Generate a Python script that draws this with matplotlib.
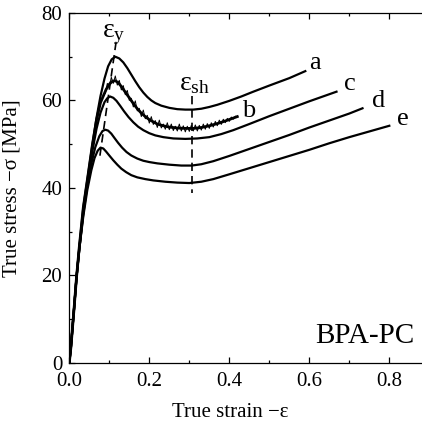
import matplotlib
matplotlib.use("Agg")
import matplotlib.pyplot as plt
from matplotlib.ticker import MultipleLocator

plt.rcParams['font.family'] = ['Liberation Serif', 'DejaVu Serif']
plt.rcParams['mathtext.fontset'] = 'custom'
plt.rcParams['mathtext.rm'] = 'Liberation Serif'
plt.rcParams['mathtext.it'] = 'Liberation Serif'

# ---- data (true strain, true stress [MPa]) ----
a_strain = [0.0, 0.004, 0.008, 0.012, 0.018, 0.025, 0.035, 0.047, 0.058, 0.068, 0.078, 0.088,
            0.097, 0.106, 0.115, 0.125, 0.135, 0.145, 0.155, 0.165, 0.175, 0.185, 0.195,
            0.205, 0.215, 0.230, 0.250, 0.270, 0.290, 0.310, 0.330, 0.350, 0.370, 0.400,
            0.430, 0.460, 0.500, 0.550, 0.590]
a_stress = [0.0, 3.5, 8.0, 12.5, 19.5, 26.5, 35.5, 43.0, 50.0, 56.0, 61.0, 65.0,
            67.8, 69.4, 70.0, 69.6, 68.7, 67.4, 65.9, 64.4, 63.0, 61.8, 60.8,
            60.0, 59.4, 58.8, 58.3, 58.0, 57.9, 57.9, 58.1, 58.5, 59.0, 59.9,
            60.9, 62.0, 63.4, 65.1, 66.7]

b_strain = [0.0, 0.004, 0.008, 0.012, 0.018, 0.025, 0.035, 0.047, 0.058, 0.068, 0.078, 0.085,
            0.092, 0.100, 0.108, 0.115, 0.122, 0.130, 0.140, 0.150, 0.160, 0.170, 0.180,
            0.190, 0.200, 0.210, 0.220, 0.235, 0.250, 0.270, 0.290, 0.310, 0.330, 0.350,
            0.370, 0.390, 0.420]
b_stress = [0.0, 3.5, 8.0, 12.5, 19.5, 26.5, 35.5, 43.0, 50.0, 55.5, 59.5, 61.0,
            62.5, 63.7, 64.4, 64.5, 64.1, 63.2, 61.9, 60.6, 59.3, 58.1, 57.1,
            56.3, 55.6, 55.1, 54.6, 54.2, 53.9, 53.7, 53.6, 53.6, 53.8, 54.2,
            54.7, 55.3, 56.3]

b_noise_strain = [0.085, 0.090, 0.095, 0.100, 0.105, 0.110, 0.115, 0.120, 0.125, 0.130,
                  0.135, 0.140, 0.145, 0.150, 0.155, 0.160, 0.165, 0.170, 0.175, 0.180,
                  0.185, 0.190, 0.195, 0.200, 0.205, 0.210, 0.215, 0.220, 0.225, 0.230,
                  0.235, 0.240, 0.245, 0.250, 0.255, 0.260, 0.265, 0.270, 0.275, 0.280,
                  0.285, 0.290, 0.295, 0.300, 0.305, 0.310, 0.315, 0.320, 0.325, 0.330,
                  0.335, 0.340, 0.345, 0.350, 0.355, 0.360, 0.365, 0.370, 0.375, 0.380,
                  0.385, 0.390, 0.395, 0.400, 0.405, 0.410, 0.415, 0.420]
b_noise_stress = [61.4, 61.6, 63.9, 63.1, 65.3, 63.9, 65.6, 63.5, 64.6, 62.4,
                  63.4, 61.3, 62.3, 60.0, 60.5, 58.5, 59.9, 57.6, 58.2, 56.3,
                  57.8, 55.8, 56.6, 54.8, 56.3, 54.5, 55.4, 53.8, 55.5, 53.7,
                  54.6, 53.4, 54.9, 53.3, 54.6, 53.1, 54.1, 53.0, 54.6, 53.0,
                  54.2, 52.8, 54.1, 52.9, 54.3, 53.0, 54.4, 53.0, 54.3, 53.2,
                  54.6, 53.4, 54.7, 53.6, 54.9, 53.9, 55.2, 54.2, 55.5, 54.5,
                  55.7, 54.9, 55.9, 55.2, 56.2, 55.7, 56.4, 56.3]

c_strain = [0.0, 0.004, 0.008, 0.012, 0.018, 0.025, 0.035, 0.047, 0.058, 0.068, 0.078, 0.088,
            0.095, 0.102, 0.110, 0.118, 0.127, 0.137, 0.148, 0.160, 0.172, 0.185, 0.200,
            0.215, 0.235, 0.260, 0.290, 0.320, 0.350, 0.380, 0.410, 0.450, 0.500, 0.550,
            0.600, 0.668]
c_stress = [0.0, 3.5, 8.0, 12.5, 19.5, 26.0, 34.5, 42.0, 48.5, 53.5, 57.2, 59.6,
            60.5, 60.9, 60.6, 59.9, 58.8, 57.5, 56.2, 55.0, 54.0, 53.2, 52.5,
            52.0, 51.6, 51.3, 51.2, 51.3, 51.6, 52.3, 53.2, 54.6, 56.4, 58.1,
            59.8, 62.0]

d_strain = [0.0, 0.004, 0.008, 0.012, 0.018, 0.025, 0.035, 0.045, 0.055, 0.065, 0.075, 0.083,
            0.090, 0.097, 0.105, 0.113, 0.122, 0.132, 0.143, 0.155, 0.170, 0.185, 0.200,
            0.220, 0.250, 0.280, 0.306, 0.330, 0.360, 0.400, 0.450, 0.500, 0.550, 0.600,
            0.650, 0.700, 0.733]
d_stress = [0.0, 3.5, 8.0, 12.5, 19.5, 26.0, 34.0, 40.5, 45.5, 49.3, 51.8, 53.0,
            53.3, 53.1, 52.4, 51.4, 50.3, 49.2, 48.2, 47.4, 46.7, 46.2, 45.9,
            45.6, 45.3, 45.1, 45.1, 45.4, 46.1, 47.3, 48.9, 50.5, 52.1, 53.8,
            55.4, 57.0, 58.2]

e_strain = [0.0, 0.004, 0.008, 0.012, 0.018, 0.025, 0.035, 0.045, 0.055, 0.063, 0.071, 0.078,
            0.085, 0.092, 0.100, 0.110, 0.120, 0.130, 0.142, 0.155, 0.170, 0.190, 0.210,
            0.240, 0.270, 0.300, 0.330, 0.360, 0.400, 0.450, 0.500, 0.550, 0.600, 0.650,
            0.700, 0.750, 0.800]
e_stress = [0.0, 3.5, 8.0, 12.5, 19.5, 26.0, 33.5, 39.5, 44.0, 46.8, 48.5, 49.2,
            49.0, 48.3, 47.4, 46.3, 45.3, 44.4, 43.6, 42.9, 42.4, 42.0, 41.7,
            41.4, 41.2, 41.1, 41.4, 42.0, 43.1, 44.5, 45.9, 47.3, 48.7, 50.2,
            51.6, 52.9, 54.2]

curve_labels = ['a', 'b', 'c', 'd', 'e']
label_x = [0.600, 0.431, 0.687, 0.756, 0.818]
label_y = [67.3, 56.3, 62.4, 58.6, 54.4]

yield_line_x = [0.117, 0.076]
yield_line_y = [73.4, 47.0]
sh_line_x = [0.306, 0.306]
sh_line_y = [61.0, 38.8]

x_ticks = [0.0, 0.2, 0.4, 0.6, 0.8]
y_ticks = [0, 20, 40, 60, 80]

# ---- figure ----
W, H = 422, 423
fig = plt.figure(figsize=(W / 100, H / 100), dpi=100)
left_px, bottom_px, top_px = 69.3, 362.7, 13.0
xmax = 0.9
ax = fig.add_axes([left_px / W, (H - bottom_px) / H, 400 * xmax / W, (bottom_px - top_px) / H])

lw = 1.6
k = 'black'
ax.plot(a_strain, a_stress, color=k, lw=lw)
ax.plot(b_strain, b_stress, color=k, lw=2.0)
ax.plot(b_noise_strain, b_noise_stress, color=k, lw=0.7)
ax.plot(c_strain, c_stress, color=k, lw=lw)
ax.plot(d_strain, d_stress, color=k, lw=lw)
ax.plot(e_strain, e_stress, color=k, lw=lw)

ax.plot(yield_line_x, yield_line_y, color=k, lw=1.2, ls=(0, (5, 3)))
ax.plot(sh_line_x, sh_line_y, color=k, lw=1.2, ls=(0, (5, 3)))

for lab, lx, ly in zip(curve_labels, label_x, label_y):
    ax.text(lx, ly, lab, fontsize=19, ha='left', va='baseline')

ax.text(0.112, 74.6, r'$\mathrm{ε}_\mathrm{y}$', fontsize=20, ha='center', va='baseline')
ax.text(0.313, 62.4, r'$\mathrm{ε}_\mathrm{sh}$', fontsize=20, ha='center', va='baseline')
ax.text(0.862, 4.6, 'BPA-PC', fontsize=21, ha='right', va='baseline')

ax.set_xlim(0, xmax)
ax.set_ylim(0, 80)
ax.set_xticks(x_ticks)
ax.set_xticklabels(['%.1f' % v for v in x_ticks])
ax.set_yticks(y_ticks)
ax.xaxis.set_minor_locator(MultipleLocator(0.1))
ax.yaxis.set_minor_locator(MultipleLocator(10))
ax.spines['right'].set_visible(False)
for s in ['left', 'bottom', 'top']:
    ax.spines[s].set_linewidth(0.9)
ax.tick_params(which='both', direction='in', top=True, right=False, labelsize=15, width=0.9)
ax.tick_params(which='major', length=4)
ax.tick_params(which='minor', length=2.5)
ax.tick_params(axis='x', pad=7)
ax.tick_params(axis='y', pad=5)

ax.set_xlabel('True strain −ε', fontsize=15)
ax.set_ylabel('True stress −σ [MPa]', fontsize=15)
ax.xaxis.set_label_coords(0.446, -0.115)
ax.yaxis.set_label_coords(-0.134, 0.5)

fig.savefig('out.png', dpi=100)
